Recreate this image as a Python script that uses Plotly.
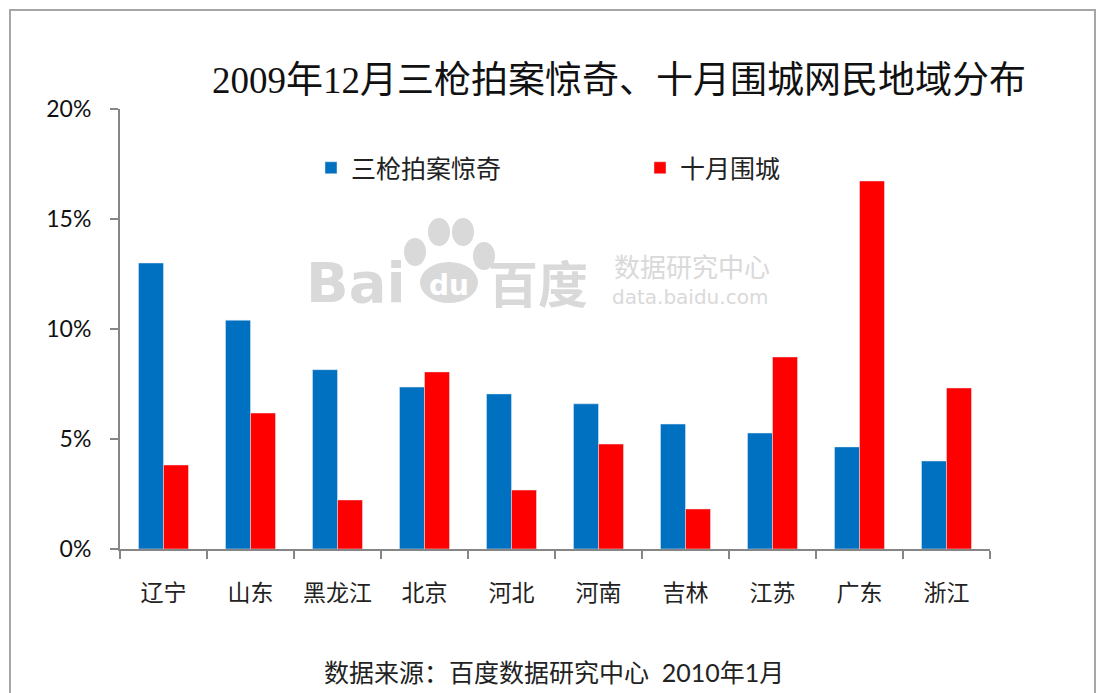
import plotly.graph_objects as go

# data (share of netizens, %)
provinces = ["辽宁", "山东", "黑龙江", "北京", "河北", "河南", "吉林", "江苏", "广东", "浙江"]
sanqiang = [13.0, 10.4, 8.15, 7.36, 7.05, 6.6, 5.68, 5.27, 4.64, 4.0]
shiyue = [3.82, 6.18, 2.23, 8.05, 2.68, 4.77, 1.82, 8.73, 16.73, 7.32]
y_ticks = [0, 5, 10, 15, 20]
y_tick_text = ["0%", "5%", "10%", "15%", "20%"]

BLUE = "#0070C0"
RED = "#FF0000"
AXIS = "#868686"
MARK = "#D9D9D9"

PAGE = 8  # browser body margin
W, H = 1106 - PAGE, 693 - PAGE
L, R, T, B = 120 - PAGE, 990 - PAGE, 109 - PAGE, 549 - PAGE  # plot area in figure pixels


def px(x):
    return (x - PAGE - L) / (R - L)


def py(y):
    return (B - (y - PAGE)) / (B - T)


fig = go.Figure()
fig.add_trace(go.Bar(x=provinces, y=sanqiang, name="三枪拍案惊奇", marker_color=BLUE))
fig.add_trace(go.Bar(x=provinces, y=shiyue, name="十月围城", marker_color=RED))

# outer frame
shapes = [
    dict(type="rect", xref="paper", yref="paper", x0=px(10), x1=px(1095), y0=py(710), y1=py(10),
         line=dict(color="#A6A6A6", width=2), layer="below"),
]
# Baidu watermark paw
for cx, cy, rx, ry in [(415, 252, 11, 14), (439, 232, 11, 14), (463, 232, 11, 14), (484, 256, 11, 14)]:
    shapes.append(dict(type="circle", xref="paper", yref="paper", x0=px(cx - rx), x1=px(cx + rx),
                       y0=py(cy + ry), y1=py(cy - ry), fillcolor=MARK, line_width=0, layer="below"))
shapes.append(dict(type="circle", xref="paper", yref="paper", x0=px(420), x1=px(478), y0=py(303), y1=py(262),
                   fillcolor=MARK, line_width=0, layer="below"))

annotations = [
    dict(text="Bai", x=px(356), y=py(282), font=dict(size=56, color=MARK, family="DejaVu Sans", weight="bold")),
    dict(text="du", x=px(449), y=py(285), font=dict(size=28, color="white", family="DejaVu Sans", weight="bold")),
    dict(text="百度", x=px(538), y=py(281), font=dict(size=50, color=MARK, family="Noto Sans CJK SC", weight="bold")),
    dict(text="数据研究中心", x=px(692), y=py(265), font=dict(size=26, color=MARK, family="Noto Sans CJK SC")),
    dict(text="data.baidu.com", x=px(690), y=py(297), font=dict(size=20, color=MARK, family="DejaVu Sans")),
    dict(text="数据来源：百度数据研究中心  2010年1月", x=px(554), y=py(672),
         font=dict(size=25, color="#222222", family="Lato, Noto Sans CJK SC")),
]
for a in annotations:
    a.update(xref="paper", yref="paper", showarrow=False, xanchor="center", yanchor="middle")

fig.update_layout(
    width=W, height=H,
    margin=dict(l=L, r=W - R, t=T, b=H - B),
    paper_bgcolor="white", plot_bgcolor="white",
    barmode="group", bargap=0.425, bargroupgap=0,
    title=dict(text="2009年12月三枪拍案惊奇、十月围城网民地域分布", xref="paper", x=px(619), xanchor="center",
               y=1 - (80 - PAGE) / H, yanchor="middle",
               font=dict(size=37, color="#111111", family="Liberation Serif, Noto Sans CJK SC")),
    legend=dict(orientation="h", x=px(311), y=py(168), xanchor="left", yanchor="middle",
                entrywidth=284, entrywidthmode="pixels",
                font=dict(size=25, color="#222222", family="Noto Sans CJK SC"), bgcolor="rgba(0,0,0,0)"),
    shapes=shapes,
    annotations=annotations,
    showlegend=True,
)
fig.update_xaxes(
    showline=True, linecolor=AXIS, linewidth=2, ticks="outside", tickson="boundaries",
    ticklen=8, tickcolor=AXIS, tickwidth=2, showgrid=False, ticklabelstandoff=22,
    tickfont=dict(size=23, color="#222222", family="Noto Sans CJK SC"),
)
fig.update_yaxes(
    range=[0, 20], tickvals=y_ticks, ticktext=y_tick_text,
    showline=True, linecolor=AXIS, linewidth=2, ticks="outside",
    ticklen=8, tickcolor=AXIS, tickwidth=2, showgrid=False, zeroline=False, ticklabelstandoff=14,
    tickfont=dict(size=23, color="#111111", family="Lato, Liberation Sans"),
)

fig.write_html("out.html")
